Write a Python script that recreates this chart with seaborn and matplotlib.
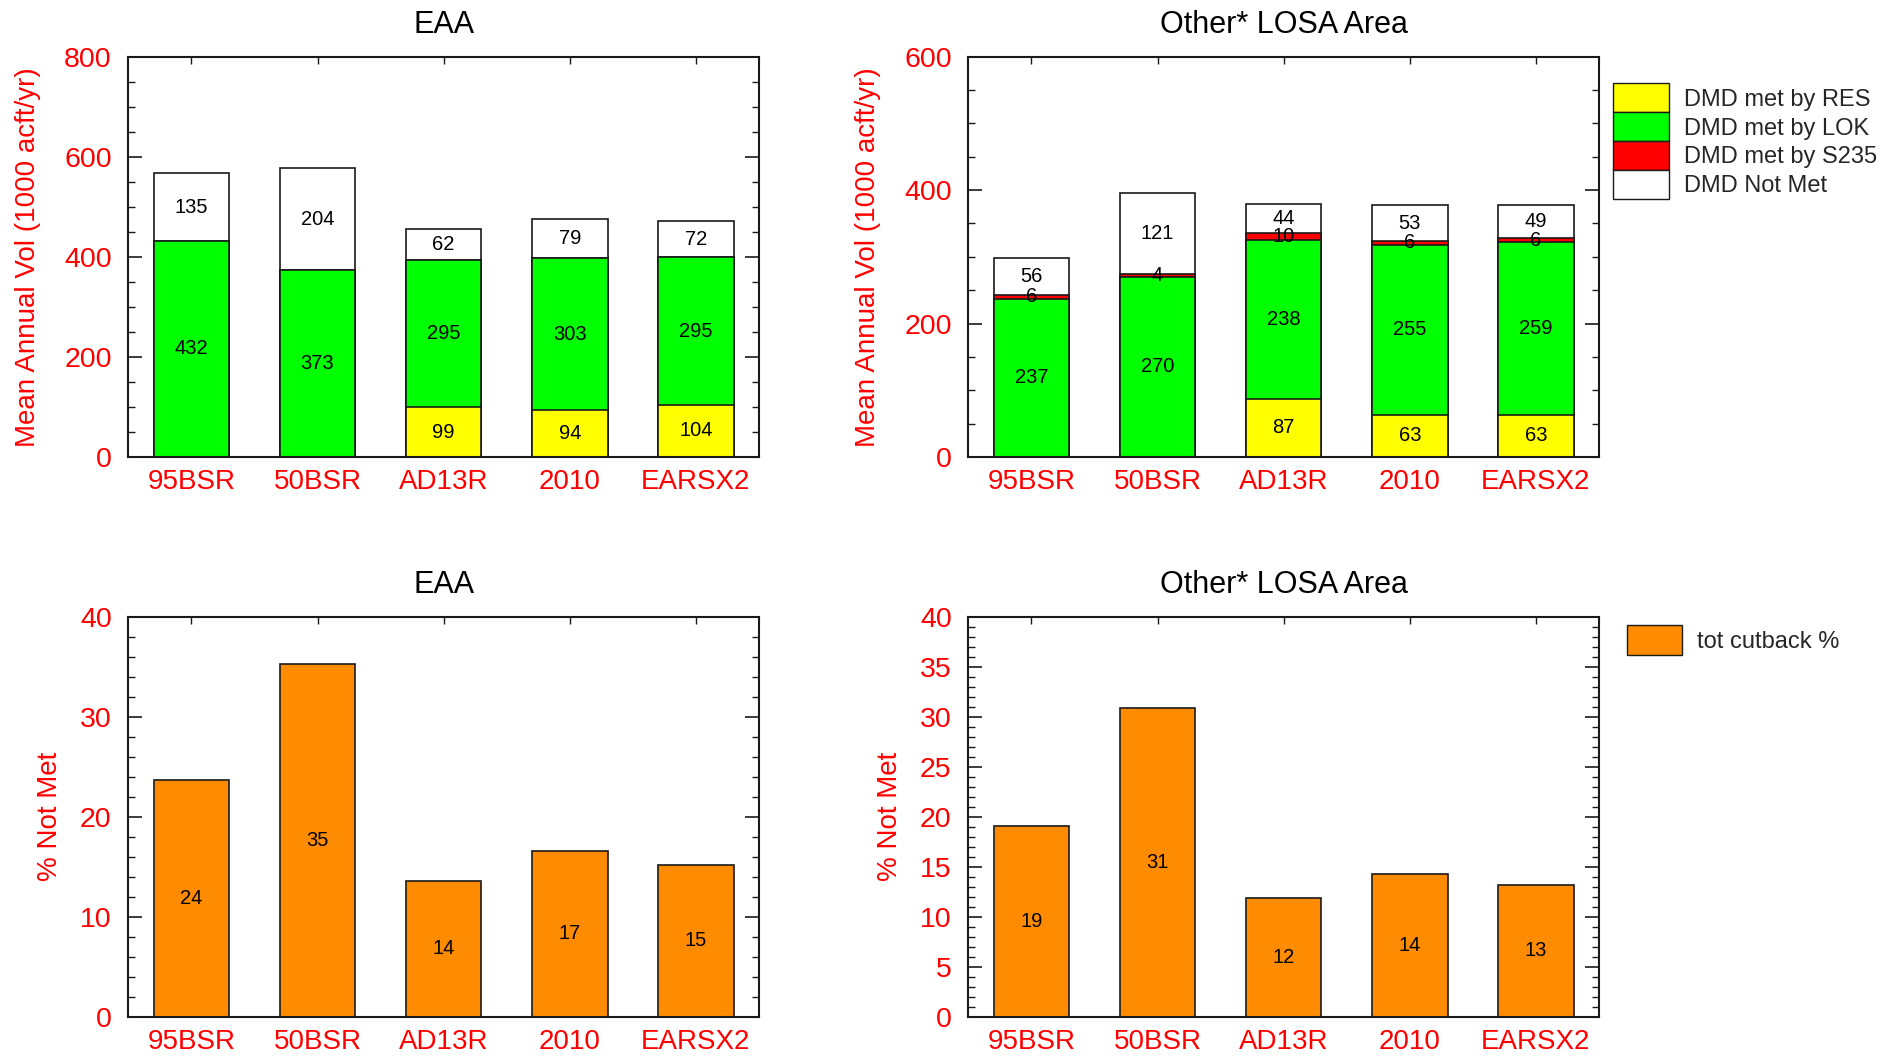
import matplotlib
matplotlib.use("Agg")
import matplotlib.pyplot as plt
import seaborn as sns
import pandas as pd
import numpy as np
from matplotlib.ticker import MultipleLocator
from matplotlib.patches import Patch

# ---------------- data ----------------
scenarios = ["95BSR", "50BSR", "AD13R", "2010", "EARSX2"]

eaa_res = [0, 0, 99, 94, 104]
eaa_lok = [432, 373, 295, 303, 295]
eaa_s235 = [0, 0, 0, 0, 0]
eaa_notmet = [135, 204, 62, 79, 72]

losa_res = [0, 0, 87, 63, 63]
losa_lok = [237, 270, 238, 255, 259]
losa_s235 = [6, 4, 10, 6, 6]
losa_notmet = [56, 121, 44, 53, 49]

eaa_pct = [23.7, 35.3, 13.6, 16.6, 15.2]
losa_pct = [19.1, 30.9, 11.9, 14.3, 13.2]

layer_names = ["DMD met by RES", "DMD met by LOK", "DMD met by S235", "DMD Not Met"]
layer_colors = ["#FFFF00", "#00FF00", "#FF0000", "#FFFFFF"]
pct_name = "tot cutback %"
pct_color = "#FF8C00"

titles = ["EAA", "Other* LOSA Area"]
vol_label = "Mean Annual Vol (1000 acft/yr)"
pct_label = "% Not Met"

# ---------------- style ----------------
sns.set_theme(style="ticks")
plt.rcParams["font.family"] = ["Liberation Sans", "DejaVu Sans"]
plt.rcParams["axes.linewidth"] = 1.5
plt.rcParams["axes.edgecolor"] = "#1a1a1a"

EDGE = "#1a1a1a"
FW, FH = 1884, 1056
fig = plt.figure(figsize=(FW / 100, FH / 100), dpi=100)


def px_axes(left, top, right, bottom):
    return fig.add_axes([left / FW, 1 - bottom / FH, (right - left) / FW, (bottom - top) / FH])


ax_tl = px_axes(128.3, 56.7, 759, 457)
ax_tr = px_axes(968.3, 56.7, 1599, 457)
ax_bl = px_axes(128.3, 616.7, 759, 1017)
ax_br = px_axes(968.3, 616.7, 1599, 1017)


def style_axes(ax, ymax, major, minor, ylabel, title, labelpad):
    ax.set_xlim(-0.5, len(scenarios) - 0.5)
    ax.set_ylim(0, ymax)
    ax.yaxis.set_major_locator(MultipleLocator(major))
    ax.yaxis.set_minor_locator(MultipleLocator(minor))
    ax.tick_params(axis="y", which="both", direction="in", left=True, right=True,
                   labelcolor="#FF0000", labelsize=20.5, pad=12, color=EDGE)
    ax.tick_params(axis="y", which="major", length=10, width=1.2)
    ax.tick_params(axis="y", which="minor", length=5, width=1.0)
    ax.tick_params(axis="x", which="both", direction="in", bottom=False, top=True,
                   length=5, width=1.0, labelbottom=True, labelcolor="#FF0000",
                   labelsize=20, pad=8.5, color=EDGE)
    ax.set_xlabel("")
    ax.set_ylabel(ylabel, color="#FF0000", fontsize=20, labelpad=labelpad)
    ax.set_title(title, fontsize=22, color="black", pad=17)
    for sp in ax.spines.values():
        sp.set_visible(True)
        sp.set_linewidth(1.5)
        sp.set_color(EDGE)


def stacked(ax, layers):
    tops = []
    cum = np.zeros(len(scenarios))
    for vals in layers:
        cum = cum + np.asarray(vals, dtype=float)
        tops.append(cum.copy())
    for top, color in reversed(list(zip(tops, layer_colors))):
        df = pd.DataFrame({"scenario": scenarios, "value": top})
        sns.barplot(data=df, x="scenario", y="value", order=scenarios, color=color,
                    saturation=1, width=0.6, edgecolor=EDGE, linewidth=1.2,
                    errorbar=None, ax=ax)
    bottom = np.zeros(len(scenarios))
    for vals in layers:
        for i, v in enumerate(vals):
            if v > 0:
                ax.text(i, bottom[i] + v / 2, f"{v:.0f}", ha="center", va="center",
                        fontsize=14.5, color="black", zorder=5)
        bottom = bottom + np.asarray(vals, dtype=float)


def pct_bars(ax, vals):
    df = pd.DataFrame({"scenario": scenarios, "value": vals})
    sns.barplot(data=df, x="scenario", y="value", order=scenarios, color=pct_color,
                saturation=1, width=0.6, edgecolor=EDGE, linewidth=1.2,
                errorbar=None, ax=ax)
    for i, v in enumerate(vals):
        ax.text(i, v / 2, f"{v:.0f}", ha="center", va="center", fontsize=14.5,
                color="black", zorder=5)


stacked(ax_tl, [eaa_res, eaa_lok, eaa_s235, eaa_notmet])
style_axes(ax_tl, 800, 200, 50, vol_label, titles[0], 16.5)

stacked(ax_tr, [losa_res, losa_lok, losa_s235, losa_notmet])
style_axes(ax_tr, 600, 200, 50, vol_label, titles[1], 16.5)

pct_bars(ax_bl, eaa_pct)
style_axes(ax_bl, 40, 10, 2, pct_label, titles[0], 12.5)

pct_bars(ax_br, losa_pct)
style_axes(ax_br, 40, 5, 1, pct_label, titles[1], 12.5)

# ---------------- legends ----------------
handles = [Patch(facecolor=c, edgecolor=EDGE, linewidth=1.0, label=n)
           for n, c in zip(layer_names, layer_colors)]
fig.legend(handles=handles, loc="upper left", bbox_to_anchor=(1613.3 / FW, 1 - 83.3 / FH),
           frameon=False, fontsize=17, handlelength=2.37, handleheight=1.51,
           labelspacing=0, handletextpad=0.63, borderpad=0, borderaxespad=0)

fig.legend(handles=[Patch(facecolor=pct_color, edgecolor=EDGE, linewidth=1.0, label=pct_name)],
           loc="upper left", bbox_to_anchor=(1627 / FW, 1 - 625 / FH),
           frameon=False, fontsize=17, handlelength=2.35, handleheight=1.58,
           labelspacing=0, handletextpad=0.63, borderpad=0, borderaxespad=0)

fig.savefig("out.png", dpi=100, facecolor="white")
